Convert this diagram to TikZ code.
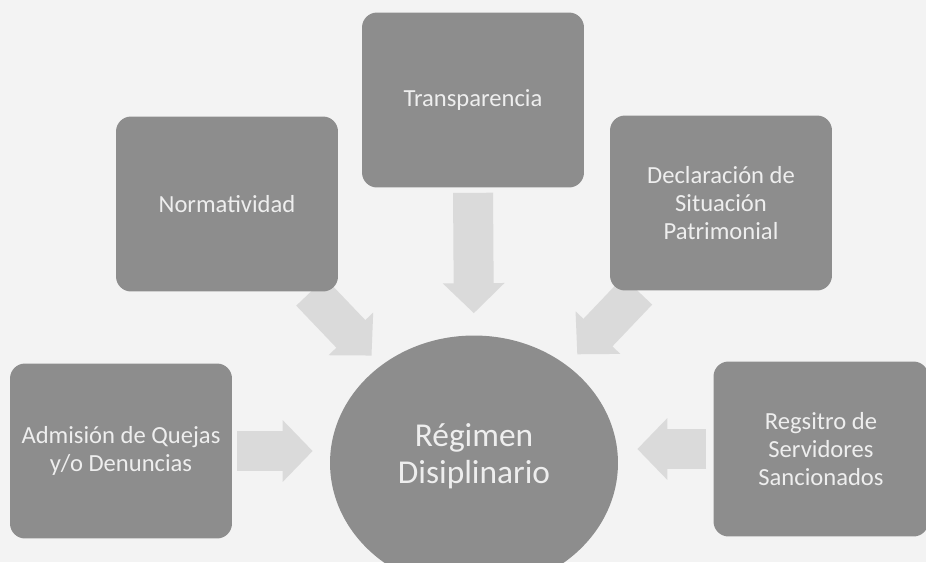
\documentclass[tikz,border=0pt]{standalone}
\usepackage{fontspec}
\setmainfont{Carlito}
\usetikzlibrary{shapes.geometric,arrows.meta}

\definecolor{fondo}{HTML}{F3F3F3}
\definecolor{gris}{HTML}{8D8D8D}
\definecolor{grisclaro}{HTML}{DADADA}
\definecolor{letra}{HTML}{EEEEEE}

\pgfdeclarelayer{capafondo}
\pgfdeclarelayer{capaflechas}
\pgfsetlayers{capafondo,capaflechas,main}

\begin{document}
\begin{tikzpicture}[x=0.02cm,y=-0.02cm,
  caja/.style={rectangle,rounded corners=0.3cm,fill=gris,text=letra,
    minimum width=4.44cm,minimum height=3.5cm,align=center,
    font=\fontsize{14}{16}\selectfont},
  flecha/.style={draw=grisclaro,line width=0.8cm,
    -{Triangle[length=0.6cm,width=1.2cm]}}]

\useasboundingbox (0,0) rectangle (926,562);
\begin{pgfonlayer}{capafondo}
\fill[fondo] (0,0) rectangle (926,562);
\end{pgfonlayer}

\node[caja] (trans) at (473,100) {Transparencia};
\node[caja] (norm) at (227,204) {Normatividad};
\node[caja] (decl) at (721,203) {Declaración de\\Situación\\Patrimonial};
\node[caja] (adm) at (121,451) {Admisión de Quejas\\y/o Denuncias};
\node[caja,minimum width=4.3cm] (regs) at (821,449) {Regsitro de\\Servidores\\Sancionados};

\node[ellipse,fill=gris,text=letra,inner sep=0pt,align=center,
  minimum width=5.76cm,minimum height=5.1cm,
  font=\fontsize{19}{21}\selectfont] (reg) at (474,463) {Régimen\\Disiplinario\\[-0.35cm]};

% flechas hacia el centro
\begin{pgfonlayer}{capaflechas}
\draw[flecha,shorten <=0.1cm,shorten >=0.44cm] (trans.south) -- (reg.north);
\draw[flecha,shorten >=0.27cm] (norm) -- (reg);
\draw[flecha,shorten >=0.3cm] (decl) -- (reg);
\draw[flecha,shorten <=0.1cm,shorten >=0.34cm] (adm.east) -- (adm.east -| reg.west);
\draw[flecha,shorten <=0.14cm,shorten >=0.38cm] (regs.west) -- (regs.west -| reg.east);
\end{pgfonlayer}
\end{tikzpicture}
\end{document}
